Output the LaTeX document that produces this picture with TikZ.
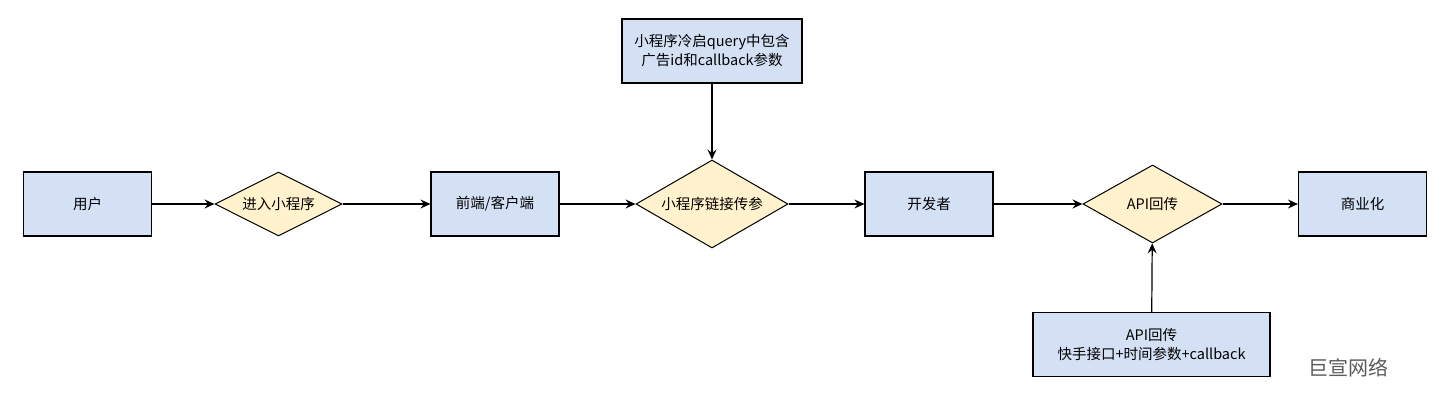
\documentclass[tikz,border=0pt]{standalone}
\usepackage{fontspec}
\setmainfont{Noto Sans CJK SC}
\usetikzlibrary{shapes.geometric,arrows.meta}
\definecolor{boxblue}{HTML}{D4E1F5}
\definecolor{boxyellow}{HTML}{FFF2CC}
\definecolor{wmgray}{HTML}{5A5A5A}
\tikzset{
  box/.style={draw=black, line width=1.2pt, fill=boxblue, minimum width=128pt, minimum height=64pt, inner sep=0pt, font=\fontsize{14.5}{19}\selectfont, align=center},
  dia/.style={draw=black, line width=1pt, fill=boxyellow, shape=diamond, inner sep=0pt, font=\fontsize{14.5}{19}\selectfont},
  conn/.style={line width=1.2pt, -{Stealth[length=10pt,width=9pt,inset=3.5pt]}}
}
\begin{document}
\begin{tikzpicture}[x=1pt,y=-1pt]
\useasboundingbox (0,0) rectangle (1447,400);
\node[box] (user) at (87.5,204) {用户};
\node[dia, aspect=2.2, minimum width=127pt, minimum height=64pt] (enter) at (278.5,204) {进入小程序};
\node[box] (front) at (495,204) {前端/客户端};
\node[dia, aspect=1.9, minimum width=152pt, minimum height=88pt] (link) at (712,204) {小程序链接传参};
\node[box] (dev) at (929,204) {开发者};
\node[dia, aspect=1.78, minimum width=139pt, minimum height=78pt] (api) at (1152.5,204) {API回传};
\node[box] (biz) at (1362.5,204) {商业化};
\node[box, minimum width=180pt] (top) at (712,51) {小程序冷启query中包含\\广告id和callback参数};
\node[box, minimum width=237pt] (bot) at (1151.5,344.5) {API回传\\快手接口+时间参数+callback};
\node[text=wmgray, font=\fontsize{20}{22}\selectfont] (wm) at (1348,368) {巨宣网络};
\draw[conn] (user) -- (enter);
\draw[conn] (enter) -- (front);
\draw[conn] (front) -- (link);
\draw[conn] (link) -- (dev);
\draw[conn] (dev) -- (api);
\draw[conn] (api) -- (biz);
\draw[conn] (top) -- (link);
\draw[conn] (bot) -- (api);
\end{tikzpicture}
\end{document}
